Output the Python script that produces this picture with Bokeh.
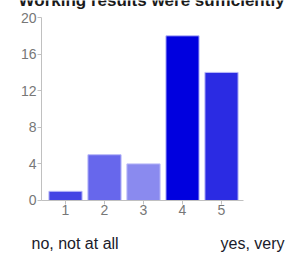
from bokeh.plotting import figure
from bokeh.models import Range1d, Label, FixedTicker, ColumnDataSource
from bokeh.embed import file_html
from bokeh.resources import INLINE

# data
categories = [1, 2, 3, 4, 5]
counts = [1, 5, 4, 18, 14]
y_ticks = [0, 4, 8, 12, 16, 20]
bar_colors = ["#4444e4", "#6767ec", "#8a8aef", "#0000df", "#2b2be3"]
title_text = "Working results were sufficiently documented"
low_label = "no, not at all"
high_label = "yes, very"

FONT = "Liberation Sans"
X_LO, X_HI = 0.385, 5.565   # visible x axis extent
Y_LO, Y_HI = 0, 20          # visible y axis extent

# the frame covers the whole canvas so texts outside the axes stay visible
p = figure(width=286, height=254, output_backend="svg", toolbar_location=None,
           x_range=Range1d(-2 / 3, 20 / 3), y_range=Range1d(-5.902, 21.858),
           min_border=0)
p.outline_line_color = None
p.xgrid.visible = False
p.ygrid.visible = False
p.background_fill_color = "white"
p.border_fill_color = "white"

src = ColumnDataSource(dict(x=categories, top=counts, color=bar_colors))
p.vbar(x="x", top="top", width=0.85, source=src, fill_color="color",
       line_color="#b8b8f8", line_width=1)

xa, ya = p.xaxis[0], p.yaxis[0]
xa.fixed_location = Y_LO
xa.bounds = (X_LO, X_HI)
ya.fixed_location = X_LO
ya.bounds = (Y_LO, Y_HI)
for ax in (xa, ya):
    ax.axis_line_color = "#c0c0c0"
    ax.major_tick_line_color = "#c0c0c0"
    ax.major_tick_in = 0
    ax.major_tick_out = 4
    ax.minor_tick_line_color = None
    ax.major_label_text_color = "#777777"
    ax.major_label_text_font = FONT
    ax.major_label_text_font_size = "14px"
    ax.major_label_standoff = 1

xa.ticker = FixedTicker(ticks=categories)
ya.ticker = FixedTicker(ticks=y_ticks)

p.add_layout(Label(x=0.128, y=-4.72, text=low_label, text_font=FONT,
                   text_font_size="16px", text_color="#1a1a2a",
                   text_baseline="middle"))
p.add_layout(Label(x=4.974, y=-4.72, text=high_label, text_font=FONT,
                   text_font_size="16px", text_color="#1a1a2a",
                   text_baseline="middle"))
p.add_layout(Label(x=-0.205, y=21.9, text=title_text, text_font=FONT,
                   text_font_size="17px", text_font_style="bold",
                   text_color="#1a1a1a", text_baseline="alphabetic"))

open("out.html", "w").write(file_html(p, INLINE))
